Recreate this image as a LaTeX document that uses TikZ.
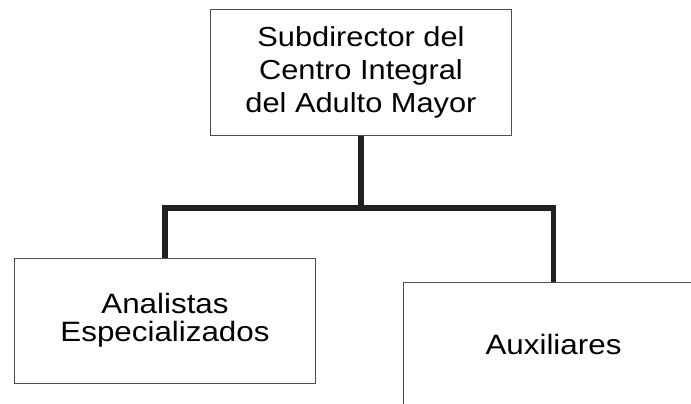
\documentclass[tikz,border=0pt]{standalone}
\usepackage{fontspec}
\setmainfont{Liberation Sans}[FakeStretch=1.12]
\usepackage{tikz}
\usetikzlibrary{positioning}
\usetikzlibrary{calc}

\begin{document}
\begin{tikzpicture}[x=1pt,y=-1pt,
	puesto/.style={draw=black!70,line width=1pt,rectangle,fill=white,
		minimum height=125pt,minimum width=301pt,inner sep=0pt},
	linea/.style={draw=black!87,line width=5.5pt}]

	% area visible del organigrama
	\clip (0,0) rectangle (691,404);
	\fill[white] (0,0) rectangle (691,404);

	% Puestos
	% -------
	\node[puesto] (Sub) at (361,72.5)
		{\parbox{9cm}{\centering\fontsize{27.5}{33}\selectfont
			Subdirector del\\Centro Integral\\del Adulto Mayor}};
	\node[puesto] (Ana) at (165,320.5)
		{\parbox{9cm}{\centering\fontsize{28}{28.5}\selectfont
			Analistas\\Especializados}};
	\node[puesto] (Aux) at (553.5,344.5)
		{\parbox{9cm}{\centering\fontsize{28}{33}\selectfont Auxiliares}};

	% Lineas de mando
	\coordinate (bus) at (0,208);
	\draw[linea] (Sub.south) -- (Sub.south |- bus);
	\draw[linea] (Ana.north) -- (Ana.north |- bus) -- (Aux.north |- bus) -- (Aux.north);

\end{tikzpicture}
\end{document}
